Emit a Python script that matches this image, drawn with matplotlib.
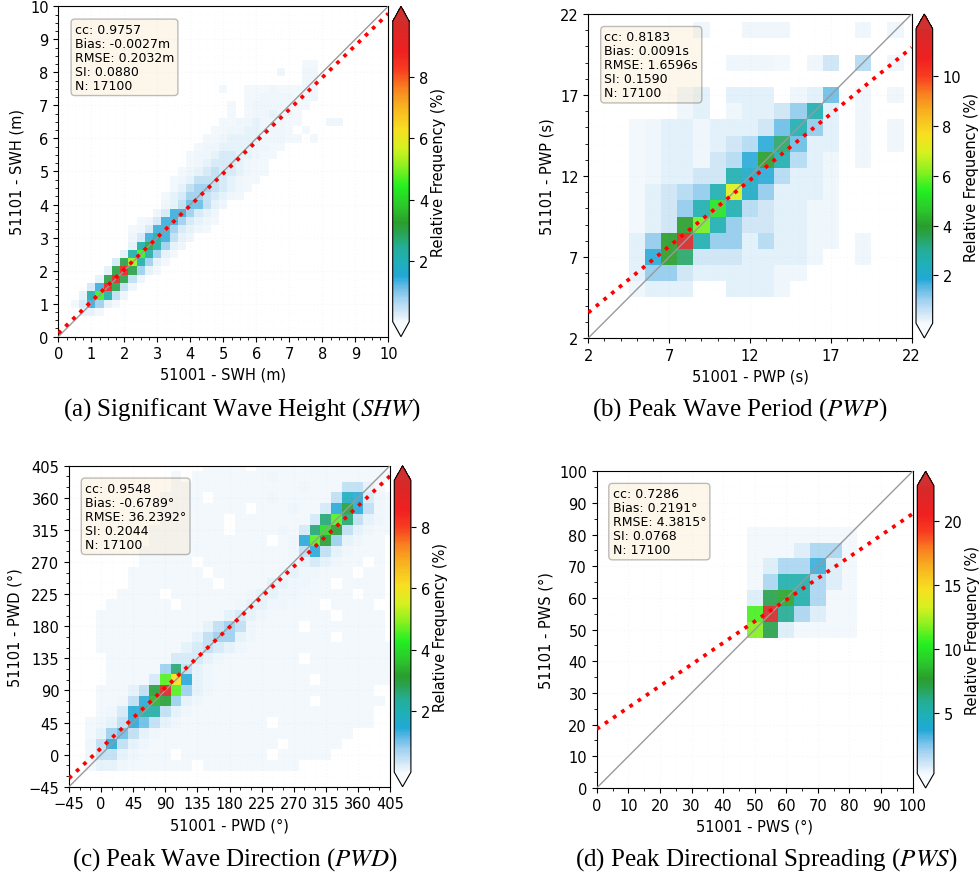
import numpy as np
import matplotlib
matplotlib.use("Agg")
import matplotlib.pyplot as plt
from matplotlib.colors import LinearSegmentedColormap, Normalize
from matplotlib.cm import ScalarMappable

plt.rcParams["mathtext.fontset"] = "stix"

# relative frequency (%) encoded by each character of the cell strings below
LEVELS = {
    "1": 0.03, "2": 0.08, "3": 0.15, "4": 0.3, "5": 0.5, "6": 0.8, "7": 1.1,
    "8": 1.4, "9": 1.8, "A": 2.2, "B": 2.6, "C": 3.0, "D": 3.4, "E": 4.0,
    "F": 4.6, "G": 5.2, "H": 6.0, "I": 7.0, "J": 8.0, "K": 9.0, "L": 9.5,
    "M": 9.8, "N": 11.0, "O": 11.9, "P": 12.5, "Q": 22.8,
}

# ---- (a) significant wave height: rows of (y bin, first x bin, cells) ----
swh_cells = [
    (8.25, 7.5, "11"),
    (8.0, 6.75, "2..22"),
    (7.75, 7.5, "22"),
    (7.5, 5.0, "1..111211122"),
    (7.25, 5.75, "112222122"),
    (7.0, 5.25, "1.12222211"),
    (6.75, 5.25, "1.1223221"),
    (6.5, 5.0, "1122322211...22"),
    (6.25, 4.75, "1122332221.1"),
    (6.0, 4.5, "112333322211.1"),
    (5.75, 4.25, "12233332211"),
    (5.5, 4.0, "12234433211"),
    (5.25, 4.0, "1234443211"),
    (5.0, 3.75, "12345443211"),
    (4.75, 3.5, "12355543211"),
    (4.5, 3.5, "1356654321"),
    (4.25, 3.25, "1346654321"),
    (4.0, 3.25, "23577532"),
    (3.75, 3.0, "24886432"),
    (3.5, 2.5, "1248864321"),
    (3.25, 2.25, "1248864321"),
    (3.0, 2.25, "248A8532"),
    (2.75, 2.25, "3ACA632"),
    (2.5, 2.0, "3AFA631"),
    (2.25, 1.75, "4CGA631"),
    (2.0, 1.5, "3CKC631"),
    (1.75, 1.25, "3CMC52"),
    (1.5, 1.0, "48KC52"),
    (1.25, 0.75, "3AFA52"),
    (1.0, 0.5, "148631"),
    (0.75, 0.75, "331"),
]
swh_ticks = [0, 1, 2, 3, 4, 5, 6, 7, 8, 9, 10]
swh_cbar_ticks = [2, 4, 6, 8]
swh_fit = (0.968, 0.10)  # slope, intercept
swh_stats = "cc: 0.9757\nBias: -0.0027m\nRMSE: 0.2032m\nSI: 0.0880\nN: 17100"

# ---- (b) peak wave period ----
pwp_cells = [
    (21, 9, "3..333....3.3"),
    (19, 11, "3332.35.6.3"),
    (17, 8, "34.444.348.3.3"),
    (16, 8, "34.34457B4.3"),
    (15, 5, "2344344458B74.3.3"),
    (14, 5, "234434569D844.3.3"),
    (13, 5, "23443569EB643.3"),
    (12, 5, "234455BA96443"),
    (11, 5, "24567BIA74443"),
    (10, 5, "2457BGB654433"),
    (9, 5, "245EHB7554433"),
    (8, 5, "47EOB77464433.3"),
    (7, 5, "49ED55544443..3"),
    (6, 5, "47754444433"),
    (5, 5, "3444..4443"),
]
pwp_ticks = [2, 7, 12, 17, 22]
pwp_cbar_ticks = [2, 4, 6, 8, 10]
pwp_fit = (0.818, 1.93)
pwp_stats = "cc: 0.8183\nBias: 0.0091s\nRMSE: 1.6596s\nSI: 0.1590\nN: 17100"

# ---- (c) peak wave direction ----
pwd_cells = [
    (405, 150, "1111.111111111111"),
    (390, 105, "1.1111111211111111111"),
    (375, 105, "11111111111121115531"),
    (360, 90, "1111.11111211111598421"),
    (345, 90, "11111111.11121148C8521"),
    (330, 90, "111111.11111114BFB5321"),
    (315, 75, "1111111.1111214BEC53211"),
    (300, 75, "11111111111.128FC63211."),
    (285, 60, "11111111111111258532111"),
    (270, 60, "11111.111111112343211.1"),
    (255, 45, "1111111.1111112322111.11"),
    (240, 45, "11111111.1111332211.1111"),
    (225, 30, "1111.11111112332211111.11"),
    (210, 15, "111111.1111123322111.1111."),
    (195, 0, "1111111111113432111111.1111"),
    (180, 0, "1111111111356521111.1111111"),
    (165, 0, "1111111113566321111111.1111"),
    (150, 0, "1111111134543211111111111111"),
    (135, 15, "111111444321111111.11111111"),
    (120, 15, "111116B53211111111111111111"),
    (105, 15, "11114FH832111111111.1111111"),
    (90, 0, "11135CLF632111111111111111"),
    (75, 0, "11258DC6321111111111.111111"),
    (60, 0, "1248AA53211111111111111111"),
    (45, -15, "12358753211111111.111111111"),
    (30, -15, "1367532111111111111111111"),
    (15, -15, "258532111111111111.11111"),
    (0, -15, "25532111.11111111.11111"),
    (-15, -15, "1332111111.111111111"),
]
pwd_ticks = [-45, 0, 45, 90, 135, 180, 225, 270, 315, 360, 405]
pwd_cbar_ticks = [2, 4, 6, 8]
pwd_fit = (0.942, 9.2)
pwd_stats = "cc: 0.9548\nBias: -0.6789°\nRMSE: 36.2392°\nSI: 0.2044\nN: 17100"

# ---- (d) peak directional spreading ----
pws_cells = [
    (80, 50, "4444444"),
    (75, 50, "4446994"),
    (70, 50, "4699D64"),
    (65, 50, "49GG964"),
    (60, 50, "6IJG944"),
    (55, 50, "NQH9644"),
    (50, 50, "OI64444"),
]
pws_ticks = [0, 10, 20, 30, 40, 50, 60, 70, 80, 90, 100]
pws_cbar_ticks = [5, 10, 15, 20]
pws_fit = (0.68, 18.6)
pws_stats = "cc: 0.7286\nBias: 0.2191°\nRMSE: 4.3815°\nSI: 0.0768\nN: 17100"

cmap = LinearSegmentedColormap.from_list("wbgyr", [
    (0.00, "#f2f8fd"), (0.015, "#e2f0fa"), (0.04, "#c8e3f5"), (0.08, "#9cd0ef"),
    (0.12, "#5cb8e4"), (0.15, "#22a8d6"), (0.20, "#1fb0b8"), (0.25, "#25ad95"),
    (0.30, "#2aa24a"), (0.33, "#2a9e2c"), (0.38, "#2cc42c"), (0.45, "#22f022"),
    (0.52, "#90f020"), (0.58, "#d8f020"), (0.64, "#f8e020"), (0.72, "#f8b020"),
    (0.78, "#f88020"), (0.84, "#f83c20"), (0.90, "#f02020"), (1.00, "#d42a2a"),
])
cmap.set_under("#f8fbfe")
cmap.set_over("#d03030")
cmap.set_bad((1, 1, 1, 0))


def build_grid(cells, lo, hi, width):
    centers = np.arange(lo, hi + width / 2, width)
    n = len(centers)
    grid = np.zeros((n, n))
    for y, x0, codes in cells:
        iy = int(round((y - lo) / width))
        ix0 = int(round((x0 - lo) / width))
        for k, ch in enumerate(codes):
            if ch in LEVELS and 0 <= ix0 + k < n:
                grid[iy, ix0 + k] = LEVELS[ch]
    edges = np.append(centers - width / 2, centers[-1] + width / 2)
    return edges, np.ma.masked_equal(grid, 0)


def draw_panel(fig, ax_rect, cb_rect, cells, lim, width, ticks, minor, cticks,
               fit, stats, name, unit, caption, cap_xy):
    ax = fig.add_axes(ax_rect)
    cax = fig.add_axes(cb_rect)
    edges, grid = build_grid(cells, lim[0], lim[1], width)
    norm = Normalize(vmin=grid.min(), vmax=grid.max())
    ax.pcolormesh(edges, edges, grid, cmap=cmap, norm=norm, alpha=0.92, zorder=1)

    line_x = np.array(lim, dtype=float)
    ax.plot(line_x, line_x, color="#9a9a9a", lw=1.0, zorder=3)
    ax.plot(line_x, fit[0] * line_x + fit[1], color="red", ls=":", lw=2.7, zorder=4)

    ax.set_xlim(lim)
    ax.set_ylim(lim)
    ax.set_xticks(ticks)
    ax.set_yticks(ticks)
    ax.xaxis.set_minor_locator(plt.MultipleLocator(minor))
    ax.yaxis.set_minor_locator(plt.MultipleLocator(minor))
    ax.tick_params(labelsize=10.5)
    ax.set_axisbelow(True)
    ax.grid(which="major", ls=":", color="#a8a8a8", lw=0.9)
    ax.grid(which="minor", ls=":", color="#dadada", lw=0.7)
    ax.set_xlabel(f"51001 - {name} ({unit})", fontsize=10.5)
    ax.set_ylabel(f"51101 - {name} ({unit})", fontsize=10.5)

    ax.text(0.05, 0.95, stats, transform=ax.transAxes, fontsize=9, va="top",
            ha="left", linespacing=1.1, zorder=5,
            bbox=dict(boxstyle="round,pad=0.3", facecolor="wheat", alpha=0.25,
                      edgecolor="black"))

    cb = fig.colorbar(ScalarMappable(norm=norm, cmap=cmap), cax=cax,
                      extend="both", ticks=cticks)
    cb.ax.tick_params(labelsize=10.5)
    cb.set_label("Relative Frequency (%)", fontsize=10.5, labelpad=2)

    fig.text(cap_xy[0], cap_xy[1], caption, ha="center", va="center",
             fontsize=18, family="Liberation Serif")


def main():
    fig = plt.figure(figsize=(9.8, 8.78), dpi=100)

    draw_panel(fig, [0.0595, 0.6154, 0.3367, 0.3763], [0.4007, 0.6154, 0.0169, 0.3763],
               swh_cells, (0, 10), 0.25, swh_ticks, 0.25, swh_cbar_ticks,
               swh_fit, swh_stats, "SWH", "m",
               "(a) Significant Wave Height ($SHW$)", (0.247, 0.533))
    draw_panel(fig, [0.6003, 0.6139, 0.3300, 0.3690], [0.9347, 0.6139, 0.0170, 0.3690],
               pwp_cells, (2, 22), 1, pwp_ticks, 1, pwp_cbar_ticks,
               pwp_fit, pwp_stats, "PWP", "s",
               "(b) Peak Wave Period ($PWP$)", (0.755, 0.533))
    draw_panel(fig, [0.0704, 0.1028, 0.3276, 0.3656], [0.4023, 0.1028, 0.0170, 0.3656],
               pwd_cells, (-45, 405), 15, pwd_ticks, 15, pwd_cbar_ticks,
               pwd_fit, pwd_stats, "PWD", "°",
               "(c) Peak Wave Direction ($PWD$)", (0.240, 0.0205))
    draw_panel(fig, [0.6089, 0.1014, 0.3224, 0.3607], [0.9360, 0.1014, 0.0170, 0.3607],
               pws_cells, (0, 100), 5, pws_ticks, 5, pws_cbar_ticks,
               pws_fit, pws_stats, "PWS", "°",
               "(d) Peak Directional Spreading ($PWS$)", (0.782, 0.0205))

    fig.savefig("out.png", dpi=100, facecolor="white")


if __name__ == "__main__":
    main()
